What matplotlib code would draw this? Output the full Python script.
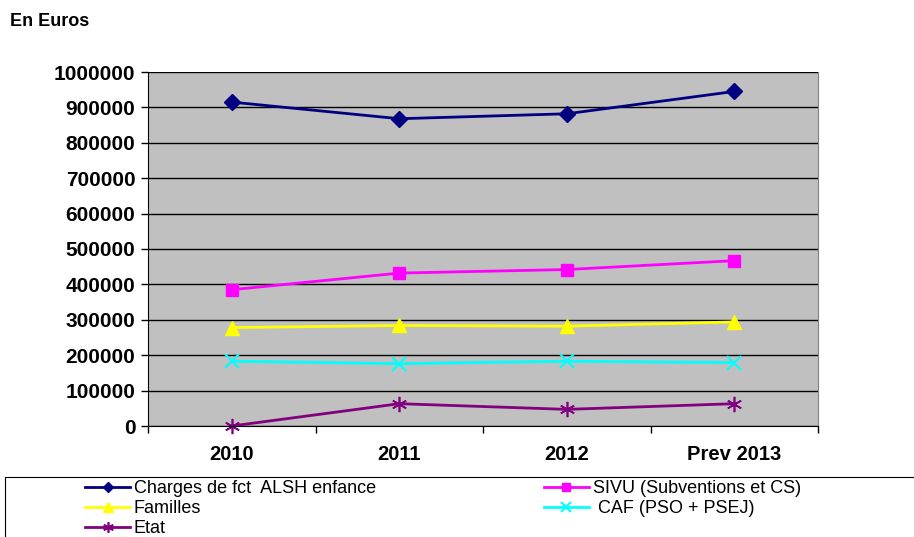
import matplotlib.pyplot as plt
from matplotlib.patches import Rectangle

annees = ["2010", "2011", "2012", "Prev 2013"]
charges = [915000, 868000, 882000, 945000]
sivu = [385000, 432000, 442000, 467000]
familles = [278000, 284000, 282000, 294000]
caf = [183000, 176000, 183000, 179000]
etat = [0, 63000, 47000, 63000]

plt.rcParams['font.family'] = ['Liberation Sans', 'DejaVu Sans']

fig = plt.figure(figsize=(9.14, 5.37), dpi=100)
ax = fig.add_axes([148/914, 1 - 426/537, 670/914, 354/537])
ax.set_facecolor("#c0c0c0")

x = range(len(annees))
l1, = ax.plot(x, charges, color="#000080", marker="D", markersize=8, lw=2, label="Charges de fct  ALSH enfance")
l2, = ax.plot(x, sivu, color="#ff00ff", marker="s", markersize=9, lw=2, label="SIVU (Subventions et CS)")
l3, = ax.plot(x, familles, color="#ffff00", marker="^", markersize=10, lw=2, label="Familles")
l4, = ax.plot(x, caf, color="#00ffff", marker="x", markersize=10, mew=1.5, lw=2, label=" CAF (PSO + PSEJ)")
l5, = ax.plot(x, etat, color="#800080", marker=(6, 2, 0), markersize=11, mew=1.2, lw=2, label="Etat", clip_on=False)

ax.set_xlim(-0.5, 3.5)
ax.set_ylim(0, 1000000)
ax.set_yticks(range(0, 1000001, 100000))
ax.ticklabel_format(axis="y", style="plain", useOffset=False)
ax.yaxis.grid(True, color="black", lw=1)
ax.set_axisbelow(True)
ax.tick_params(axis="y", labelsize=15, length=5, width=1, pad=4, direction="out")
for t in ax.get_yticklabels():
    t.set_fontweight("bold")

ax.set_xticks(list(x))
ax.set_xticklabels(annees, fontsize=14.5, fontweight="bold")
ax.tick_params(axis="x", length=0, pad=14)
ax.set_xticks([-0.5, 0.5, 1.5, 2.5, 3.5], minor=True)
ax.tick_params(axis="x", which="minor", length=5, width=1)

ax.spines["top"].set_visible(False)
ax.spines["right"].set_color("#808080")
ax.spines["left"].set_color("black")
ax.spines["bottom"].set_color("black")

fig.text(10/914, 1 - 22/537, "En Euros", fontsize=13, fontweight="bold", va="center")

fig.patches.append(Rectangle((5/914, -0.1), 1.0, 1 - 477/537 + 0.1, transform=fig.transFigure,
                             facecolor="white", edgecolor="black", lw=0.8))
fig.legend([l1, l3, l5, l2, l4], [l.get_label() for l in [l1, l3, l5, l2, l4]],
           loc="upper left", bbox_to_anchor=(85/914, 1 - 480/537), ncol=2, frameon=False,
           fontsize=13, handlelength=2.5, handletextpad=0.2, labelspacing=0.17,
           columnspacing=9.3, borderpad=0, borderaxespad=0, markerscale=0.7)

fig.savefig("out.png", dpi=100)
